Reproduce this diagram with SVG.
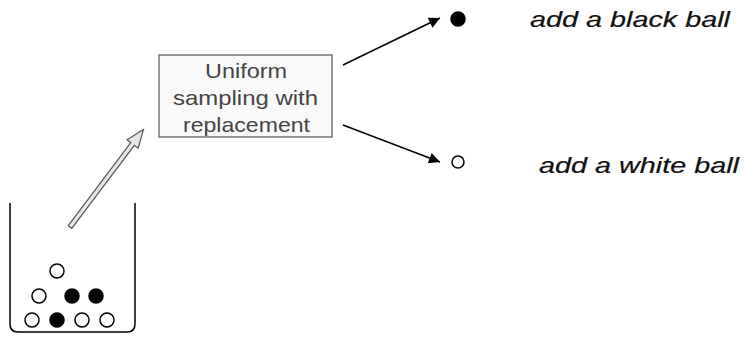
<svg xmlns="http://www.w3.org/2000/svg" width="745" height="338" viewBox="0 0 745 338">
<defs>
<style>
.ball{stroke:#000;stroke-width:1.5}
.w{fill:#fff}
.b{fill:#000}
.lbl{font-family:"Liberation Sans",Arial,sans-serif;font-style:italic;font-size:22px;fill:#111;stroke:#111;stroke-width:0.2}
.boxt{font-family:"Liberation Sans",Arial,sans-serif;font-size:21px;fill:#444;text-anchor:middle}
.conn{stroke:#000;stroke-width:1.5;fill:none}
</style>
<marker id="ah" viewBox="0 0 10 10" refX="10" refY="5" markerWidth="12" markerHeight="11" markerUnits="userSpaceOnUse" orient="auto">
<path d="M0,0 L10,5 L0,10 Z" fill="#000"/>
</marker>
</defs>
<rect width="745" height="338" fill="#fff"/>
<g id="urn">
<path d="M10,203 V324 Q10,332 18,332 H127 Q135,332 135,324 V203" fill="none" stroke="#000" stroke-width="1.5"/>
<circle class="ball w" cx="57" cy="271" r="7"/>
<circle class="ball w" cx="39" cy="296" r="7"/>
<circle class="ball b" cx="72" cy="296" r="7"/>
<circle class="ball b" cx="96" cy="296" r="7"/>
<circle class="ball w" cx="32" cy="320" r="7"/>
<circle class="ball b" cx="57" cy="320" r="7"/>
<circle class="ball w" cx="82" cy="320" r="7"/>
<circle class="ball w" cx="107" cy="320" r="7"/>
</g>
<g id="box">
<rect x="159" y="55" width="173" height="82" fill="#f9f9f9" stroke="#555" stroke-width="1.2"/>
<text class="boxt" x="246" y="78" textLength="82" lengthAdjust="spacingAndGlyphs">Uniform</text>
<text class="boxt" x="245.5" y="105" textLength="145" lengthAdjust="spacingAndGlyphs">sampling with</text>
<text class="boxt" x="246.5" y="132" textLength="127" lengthAdjust="spacingAndGlyphs">replacement</text>
</g>
<g id="blackball">
<circle class="ball b" cx="458" cy="19" r="7"/>
<text class="lbl" x="530" y="27" textLength="200" lengthAdjust="spacingAndGlyphs">add a black ball</text>
</g>
<g id="whiteball">
<circle class="ball w" cx="458" cy="162" r="6"/>
<text class="lbl" x="539" y="173" textLength="200" lengthAdjust="spacingAndGlyphs">add a white ball</text>
</g>
<g id="connectors">
<g transform="translate(70,227) rotate(-53)">
<path d="M0,-2.2 H104 V-7 L122,0 L104,7 V2.2 H0 Z" fill="#e6e6e6" stroke="#555" stroke-width="1.2"/>
</g>
<line class="conn" x1="343" y1="65" x2="440" y2="18" marker-end="url(#ah)"/>
<line class="conn" x1="343" y1="125" x2="440" y2="162" marker-end="url(#ah)"/>
</g>
</svg>
